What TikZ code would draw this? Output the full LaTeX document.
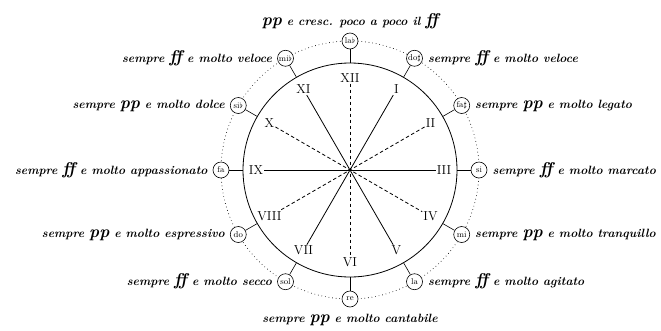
\documentclass[tikz,border=0pt]{standalone}
\usepackage{amsmath,amssymb}
\usetikzlibrary{positioning}

\newcommand{\dyn}[1]{{\fontsize{17}{17}\selectfont\bfseries\itshape #1}}

\begin{document}
\begin{tikzpicture}[
 x=1pt,y=1pt,
 dial/.style={circle,draw,line width=0.8pt,minimum size=214pt,inner sep=0pt},
 note/.style={circle,draw,line width=0.6pt,fill=white,minimum size=16pt,inner sep=0pt,font=\fontsize{8.5}{8.5}\selectfont},
 hour/.style={font=\fontsize{13}{13}\selectfont,inner sep=1pt},
 tag/.style={font=\fontsize{12}{14}\selectfont\bfseries\itshape,inner sep=1pt},
 stem/.style={line width=0.6pt},
 hand/.style={line width=0.8pt},
 half/.style={hand,dash pattern=on 3.5pt off 2.5pt},
 ring/.style={line width=0.9pt,line cap=round,dash pattern=on 0pt off 3.6pt}
]
\useasboundingbox (0,0) rectangle (661,-330);
\begin{scope}[shift={(350,-170)}]
\node[dial] (dial) at (0,0) {};
\draw[ring] (0,0) circle (129);
% notes round the dial
\node[note] (lab) at (90:129) {la$\flat$};
\node[note] (dos) at (60:129) {do$\sharp$};
\node[note] (fas) at (30:129) {fa$\sharp$};
\node[note] (si) at (0:129) {si};
\node[note] (mi) at (-30:129) {mi};
\node[note] (la) at (-60:129) {la};
\node[note] (re) at (-90:129) {re};
\node[note] (sol) at (-120:129) {sol};
\node[note] (do) at (-150:129) {do};
\node[note] (fa) at (180:129) {fa};
\node[note] (sib) at (150:129) {si$\flat$};
\node[note] (mib) at (120:129) {mi$\flat$};
% hours
\node[hour] (h12) at (90:92) {XII};
\node[hour] (h1) at (60:93) {I};
\node[hour] (h2) at (30:93) {II};
\node[hour] (h3) at (0:94) {III};
\node[hour] (h4) at (-30:93) {IV};
\node[hour] (h5) at (-60:93) {V};
\node[hour] (h6) at (-90:92) {VI};
\node[hour] (h7) at (-120:93) {VII};
\node[hour] (h8) at (-150:93) {VIII};
\node[hour] (h9) at (180:94) {IX};
\node[hour] (h10) at (150:93) {X};
\node[hour] (h11) at (120:93) {XI};
\draw[hand] (h9) -- (h3);
\draw[hand] (h11) -- (h5);
\draw[hand] (h1) -- (h7);
\draw[half] (h12) -- (h6);
\draw[half] (h10) -- (h4);
\draw[half] (h2) -- (h8);
% stems
\draw[stem] (lab) -- (dial.90);
\draw[stem] (dos) -- (dial.60);
\draw[stem] (fas) -- (dial.30);
\draw[stem] (si) -- (dial.0);
\draw[stem] (mi) -- (dial.-30);
\draw[stem] (la) -- (dial.-60);
\draw[stem] (re) -- (dial.-90);
\draw[stem] (sol) -- (dial.-120);
\draw[stem] (do) -- (dial.-150);
\draw[stem] (fa) -- (dial.180);
\draw[stem] (sib) -- (dial.150);
\draw[stem] (mib) -- (dial.120);
% directions
\node[tag,above=3pt of lab] (tlab) {\dyn{pp} e cresc. poco a poco il \dyn{ff}};
\node[tag,right=4pt of dos] (tdos) {sempre \dyn{ff} e molto veloce};
\node[tag,right=4pt of fas] (tfas) {sempre \dyn{pp} e molto legato};
\node[tag,right=4pt of si] (tsi) {sempre \dyn{ff} e molto marcato};
\node[tag,right=4pt of mi] (tmi) {sempre \dyn{pp} e molto tranquillo};
\node[tag,right=4pt of la] (tla) {sempre \dyn{ff} e molto agitato};
\node[tag,below=6pt of re] (tre) {sempre \dyn{pp} e molto cantabile};
\node[tag,left=4pt of sol] (tsol) {sempre \dyn{ff} e molto secco};
\node[tag,left=4pt of do] (tdo) {sempre \dyn{pp} e molto espressivo};
\node[tag,left=4pt of fa] (tfa) {sempre \dyn{ff} e molto appassionato};
\node[tag,left=4pt of sib] (tsib) {sempre \dyn{pp} e molto dolce};
\node[tag,left=4pt of mib] (tmib) {sempre \dyn{ff} e molto veloce};
\end{scope}
\end{tikzpicture}
\end{document}
